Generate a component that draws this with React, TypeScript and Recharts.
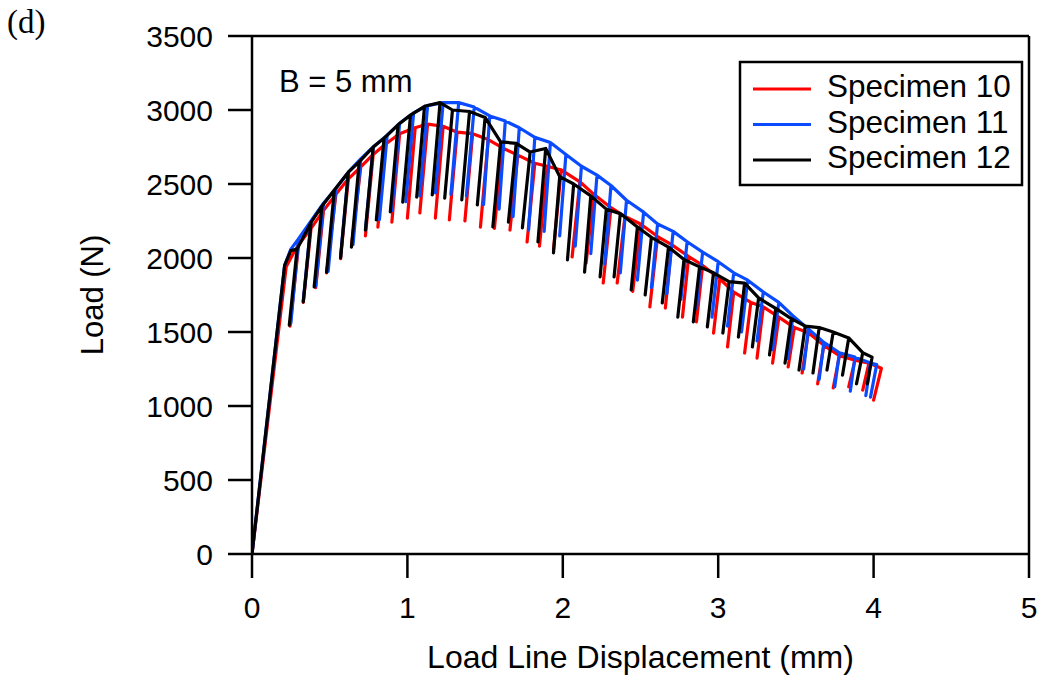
import React from 'react';
import { LineChart, Line, XAxis, YAxis, ReferenceLine } from 'recharts';

type Pt = { x: number; y: number };

const xTicks = [0, 1, 2, 3, 4, 5];
const yTicks = [0, 500, 1000, 1500, 2000, 2500, 3000, 3500];

const seriesNames = ['Specimen 10', 'Specimen 11', 'Specimen 12'];
const seriesColors = ['#ff0000', '#0a4bff', '#000000'];

// elastic loading up to the first unloading: [displacement, load]
const loading10: [number, number][] = [[0, 0], [0.22, 1940], [0.26, 2020]];
const loading11: [number, number][] = [[0, 0], [0.21, 1950], [0.25, 2060]];
const loading12: [number, number][] = [[0, 0], [0.21, 1950], [0.25, 2050]];

// partial unloadings: [xTop, loadTop, xBottom, loadBottom]
const cycles10: [number, number, number, number][] = [
  [0.30, 2090, 0.245, 1540], [0.38, 2200, 0.33, 1700], [0.46, 2320, 0.41, 1800],
  [0.54, 2430, 0.48, 1900], [0.62, 2535, 0.57, 1995], [0.70, 2615, 0.64, 2080],
  [0.78, 2700, 0.73, 2150], [0.86, 2770, 0.81, 2209], [0.95, 2840, 0.90, 2243],
  [1.05, 2880, 1.00, 2270], [1.13, 2905, 1.08, 2304], [1.23, 2890, 1.18, 2270],
  [1.32, 2850, 1.27, 2257], [1.42, 2840, 1.37, 2250], [1.52, 2800, 1.47, 2209],
  [1.61, 2745, 1.56, 2200], [1.71, 2695, 1.66, 2189], [1.82, 2640, 1.77, 2108],
  [1.90, 2620, 1.85, 2080], [1.99, 2595, 1.94, 2054], [2.11, 2515, 2.06, 2007],
  [2.20, 2430, 2.15, 1966], [2.31, 2340, 2.26, 1831], [2.40, 2280, 2.35, 1831],
  [2.50, 2230, 2.45, 1775], [2.61, 2145, 2.56, 1669], [2.70, 2090, 2.66, 1662],
  [2.81, 2010, 2.77, 1601], [2.90, 1950, 2.86, 1568], [3.01, 1860, 2.97, 1493],
  [3.10, 1770, 3.06, 1399], [3.21, 1700, 3.17, 1358], [3.29, 1670, 3.25, 1324],
  [3.39, 1600, 3.35, 1290], [3.49, 1530, 3.45, 1264], [3.58, 1495, 3.54, 1223],
  [3.68, 1410, 3.64, 1150], [3.78, 1340, 3.74, 1122], [3.88, 1310, 3.84, 1130],
  [3.97, 1290, 3.93, 1108], [4.05, 1255, 4.00, 1040],
];

const cycles11: [number, number, number, number][] = [
  [0.30, 2130, 0.25, 1560], [0.38, 2250, 0.33, 1710], [0.46, 2370, 0.41, 1810],
  [0.54, 2470, 0.49, 1910], [0.62, 2580, 0.57, 2010], [0.70, 2670, 0.65, 2090],
  [0.78, 2750, 0.73, 2190], [0.87, 2830, 0.82, 2260], [0.95, 2910, 0.90, 2320],
  [1.04, 2980, 0.99, 2380], [1.13, 3030, 1.08, 2420], [1.23, 3050, 1.18, 2440],
  [1.33, 3050, 1.28, 2430], [1.43, 3020, 1.38, 2420], [1.53, 2960, 1.49, 2360],
  [1.63, 2925, 1.59, 2330], [1.72, 2880, 1.68, 2280], [1.82, 2815, 1.78, 2190],
  [1.92, 2780, 1.88, 2180], [2.02, 2700, 1.98, 2150], [2.12, 2620, 2.08, 2080],
  [2.22, 2560, 2.18, 2030], [2.31, 2490, 2.27, 1960], [2.41, 2390, 2.37, 1900],
  [2.52, 2310, 2.48, 1850], [2.61, 2230, 2.57, 1800], [2.71, 2180, 2.67, 1760],
  [2.80, 2110, 2.76, 1720], [2.90, 2040, 2.86, 1660], [3.00, 1975, 2.96, 1600],
  [3.10, 1900, 3.06, 1540], [3.19, 1850, 3.15, 1500], [3.29, 1770, 3.25, 1440],
  [3.39, 1700, 3.35, 1380], [3.48, 1610, 3.45, 1320], [3.58, 1520, 3.55, 1250],
  [3.68, 1430, 3.65, 1180], [3.78, 1360, 3.75, 1130], [3.88, 1330, 3.85, 1100],
  [3.98, 1290, 3.95, 1070], [4.02, 1280, 3.98, 1060],
];

const cycles12: [number, number, number, number][] = [
  [0.29, 2060, 0.24, 1547], [0.38, 2240, 0.33, 1703], [0.45, 2350, 0.40, 1804],
  [0.53, 2460, 0.48, 1905], [0.62, 2580, 0.57, 2000], [0.69, 2650, 0.64, 2074],
  [0.78, 2750, 0.73, 2189], [0.85, 2810, 0.80, 2257], [0.94, 2900, 0.89, 2311],
  [1.02, 2966, 0.97, 2378], [1.11, 3025, 1.06, 2412], [1.21, 3050, 1.16, 2426],
  [1.29, 3000, 1.24, 2405], [1.40, 2990, 1.35, 2392], [1.50, 2950, 1.45, 2358],
  [1.60, 2785, 1.55, 2210], [1.70, 2775, 1.65, 2243], [1.79, 2716, 1.74, 2203],
  [1.89, 2740, 1.84, 2108], [1.98, 2550, 1.94, 2034], [2.07, 2500, 2.03, 1987],
  [2.18, 2420, 2.14, 1905], [2.28, 2330, 2.24, 1872], [2.37, 2300, 2.33, 1872],
  [2.48, 2210, 2.44, 1784], [2.57, 2140, 2.53, 1750], [2.68, 2074, 2.64, 1696],
  [2.78, 1990, 2.74, 1601], [2.88, 1940, 2.84, 1568], [2.97, 1900, 2.93, 1534],
  [3.07, 1840, 3.03, 1493], [3.17, 1830, 3.13, 1466], [3.26, 1730, 3.22, 1399],
  [3.37, 1660, 3.33, 1345], [3.47, 1590, 3.43, 1290], [3.56, 1540, 3.52, 1243],
  [3.65, 1530, 3.61, 1223], [3.74, 1500, 3.70, 1243], [3.84, 1460, 3.80, 1209],
  [3.93, 1360, 3.89, 1150], [3.99, 1330, 3.96, 1150],
];

function buildCurve(loading: [number, number][], cycles: [number, number, number, number][]): Pt[] {
  const pts: Pt[] = loading.map(([x, y]) => ({ x, y }));
  cycles.forEach(([xt, yt, xb, yb]) => {
    pts.push({ x: xt, y: yt }, { x: xb, y: yb }, { x: xt, y: yt });
  });
  return pts;
}

const curves = [
  buildCurve(loading10, cycles10),
  buildCurve(loading11, cycles11),
  buildCurve(loading12, cycles12),
];

const FONT = '"Liberation Sans", Arial, sans-serif';
const axisStroke = { stroke: '#000', strokeWidth: 2.5 };

export default function App() {
  return (
    <div style={{ position: 'absolute', left: 0, top: 0, width: 1041, height: 677, background: '#fff', fontFamily: FONT }}>
      <LineChart width={1041} height={677} margin={{ top: 36, right: 12, bottom: 0, left: 0 }}>
        <XAxis
          dataKey="x"
          type="number"
          domain={[0, 5]}
          ticks={xTicks}
          allowDataOverflow
          height={123}
          tickSize={24}
          tickMargin={19}
          axisLine={axisStroke}
          tickLine={axisStroke}
          tick={{ fill: '#000', fontSize: 30, fontFamily: FONT }}
          label={{ value: 'Load Line Displacement (mm)', position: 'insideBottom', offset: 9, fill: '#000', fontSize: 32, fontFamily: FONT }}
        />
        <YAxis
          type="number"
          domain={[0, 3500]}
          ticks={yTicks}
          allowDataOverflow
          width={252}
          tickSize={24}
          tickMargin={15}
          axisLine={axisStroke}
          tickLine={axisStroke}
          tick={{ fill: '#000', fontSize: 30, fontFamily: FONT }}
          label={{ value: 'Load (N)', angle: -90, position: 'insideLeft', offset: 92, fill: '#000', fontSize: 31, fontFamily: FONT, style: { textAnchor: 'middle' } }}
        />
        {curves.map((data, i) => (
          <Line
            key={seriesNames[i]}
            data={data}
            dataKey="y"
            name={seriesNames[i]}
            stroke={seriesColors[i]}
            strokeWidth={3.2}
            strokeLinejoin="round"
            dot={false}
            activeDot={false}
            isAnimationActive={false}
          />
        ))}
        <ReferenceLine y={3500} stroke="#000" strokeWidth={2.5} />
        <ReferenceLine x={5} stroke="#000" strokeWidth={2.5} />
      </LineChart>
      <svg width={1041} height={677} style={{ position: 'absolute', left: 0, top: 0, pointerEvents: 'none' }}>
        <text x={7} y={33} fontSize={33} fontFamily='"Liberation Serif", "Times New Roman", serif' fill="#000">(d)</text>
        <text x={279} y={92} fontSize={31} fontFamily={FONT} fill="#000">B = 5 mm</text>
        <rect x={740} y={62} width={282} height={123} fill="#fff" stroke="#000" strokeWidth={2.5} />
        {seriesNames.map((name, i) => (
          <g key={name}>
            <line x1={753} x2={811} y1={89 + i * 35.5} y2={89 + i * 35.5} stroke={seriesColors[i]} strokeWidth={3} />
            <text x={827} y={97 + i * 35.5} fontSize={31.5} fontFamily={FONT} fill="#000">{name}</text>
          </g>
        ))}
      </svg>
    </div>
  );
}
